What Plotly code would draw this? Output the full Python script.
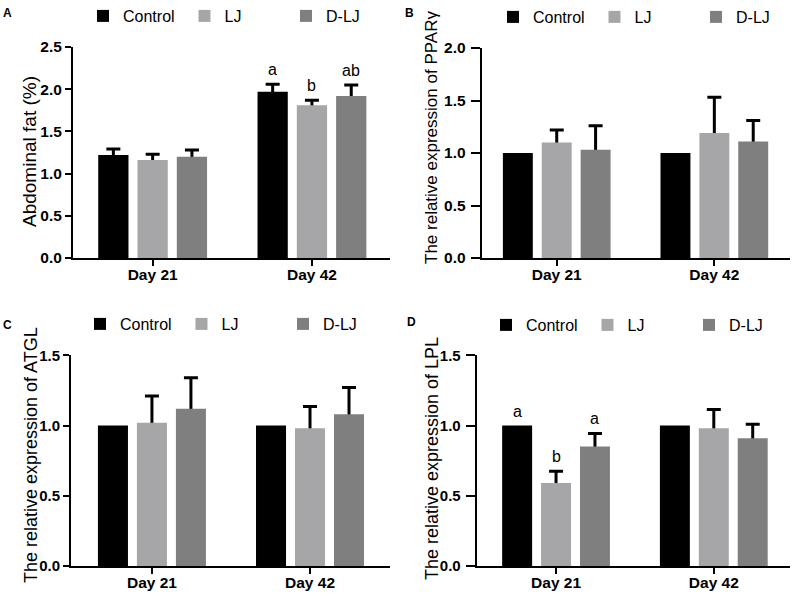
import plotly.graph_objects as go

# ---------------- data ----------------
days = ["Day 21", "Day 42"]
groups = ["Control", "LJ", "D-LJ"]
colors = ["#000000", "#a6a6a8", "#7f7f7f"]

# Panel A: Abdominal fat (%)
a_control = [1.22, 1.97]
a_control_err = [0.07, 0.09]
a_lj = [1.16, 1.81]
a_lj_err = [0.07, 0.06]
a_dlj = [1.20, 1.92]
a_dlj_err = [0.08, 0.13]
a_letters = [["", "a"], ["", "b"], ["", "ab"]]

# Panel B: PPARγ
b_control = [1.00, 1.00]
b_control_err = [0.0, 0.0]
b_lj = [1.10, 1.19]
b_lj_err = [0.12, 0.34]
b_dlj = [1.03, 1.11]
b_dlj_err = [0.23, 0.20]

# Panel C: ATGL
c_control = [1.00, 1.00]
c_control_err = [0.0, 0.0]
c_lj = [1.02, 0.98]
c_lj_err = [0.19, 0.155]
c_dlj = [1.12, 1.08]
c_dlj_err = [0.22, 0.19]

# Panel D: LPL
d_control = [1.00, 1.00]
d_control_err = [0.0, 0.0]
d_lj = [0.59, 0.98]
d_lj_err = [0.085, 0.135]
d_dlj = [0.85, 0.91]
d_dlj_err = [0.094, 0.10]
d_letters = [["a", ""], ["b", ""], ["a", ""]]

panels = [
    dict(vals=[a_control, a_lj, a_dlj], errs=[a_control_err, a_lj_err, a_dlj_err],
         letters=a_letters, title="Abdominal fat (%)", tsize=19, ymax=2.5, tpos=(29, 152),
         ytick=dict(len=6, standoff=0, size=15.5),
         xdom=[73, 390], ydom=[258, 47], xr=[-0.50, 1.49], tag="A", tagpos=(7, 13),
         leg=(83, 16)),
    dict(vals=[b_control, b_lj, b_dlj], errs=[b_control_err, b_lj_err, b_dlj_err],
         letters=None, title="The relative expression of PPARγ", tsize=17, ymax=2.0,
         tpos=(432, 138), ytick=dict(len=9, standoff=2, size=15.5),
         xdom=[481.7, 790], ydom=[258, 48], xr=[-0.476, 1.48], tag="B", tagpos=(410, 13),
         leg=(493, 17)),
    dict(vals=[c_control, c_lj, c_dlj], errs=[c_control_err, c_lj_err, c_dlj_err],
         letters=None, title="The relative expression of ATGL", tsize=18, ymax=1.5,
         tpos=(31, 455), ytick=dict(len=6, standoff=0, size=15),
         xdom=[71, 390], ydom=[566, 355.3], xr=[-0.512, 1.506], tag="C", tagpos=(7, 325),
         leg=(80, 324)),
    dict(vals=[d_control, d_lj, d_dlj], errs=[d_control_err, d_lj_err, d_dlj_err],
         letters=d_letters, title="The relative expression of LPL", tsize=18, ymax=1.5,
         tpos=(432, 459), ytick=dict(len=9, standoff=2, size=15),
         xdom=[476.7, 790], ydom=[566, 355.3], xr=[-0.503, 1.483], tag="D", tagpos=(411, 322),
         leg=(486, 325)),
]

W, H = 800, 596
BARGAP = 0.26
BARGROUPGAP = 0.23
FONT = "Liberation Sans, Arial, sans-serif"

fig = go.Figure()
layout = dict(
    width=W, height=H, margin=dict(l=0, r=0, t=0, b=0, autoexpand=False),
    paper_bgcolor="white", plot_bgcolor="white",
    barmode="group", bargap=BARGAP, bargroupgap=BARGROUPGAP,
    font=dict(family=FONT, color="black"),
    annotations=[],
)

for p_i, p in enumerate(panels):
    n = "" if p_i == 0 else str(p_i + 1)
    xa, ya = "x" + n, "y" + n
    legname = "legend" + n
    # transparent bars carrying the error bars (drawn first, beneath the visible bars,
    # so only the part above each bar shows)
    for s_i, g in enumerate(groups):
        errs = p["errs"][s_i]
        fig.add_trace(go.Bar(
            x=days, y=p["vals"][s_i], xaxis=xa, yaxis=ya, offsetgroup=g,
            marker=dict(color="rgba(0,0,0,0)", line=dict(width=0)),
            error_y=dict(type="data", symmetric=False, array=errs,
                         arrayminus=[v * 0.5 for v in p["vals"][s_i]],
                         visible=any(e > 0 for e in errs),
                         color="black", thickness=3, width=7),
            showlegend=False, hoverinfo="skip",
        ))
    # visible bars
    for s_i, g in enumerate(groups):
        fig.add_trace(go.Bar(
            x=days, y=p["vals"][s_i], xaxis=xa, yaxis=ya, offsetgroup=g, name=g,
            marker=dict(color=colors[s_i], line=dict(width=0)),
            legend=legname, showlegend=True,
        ))
    # significance letters
    if p["letters"]:
        slot = (1 - BARGAP) / len(groups)
        for s_i in range(len(groups)):
            for d_i in range(len(days)):
                txt = p["letters"][s_i][d_i]
                if txt:
                    layout["annotations"].append(dict(
                        x=d_i + (s_i - 1) * slot, y=p["vals"][s_i][d_i] + p["errs"][s_i][d_i],
                        xref=xa, yref=ya, text=txt, showarrow=False,
                        yanchor="bottom", yshift=4,
                        font=dict(family=FONT, size=16, color="black")))
    # panel tag
    layout["annotations"].append(dict(
        x=p["tagpos"][0] / W, y=1 - p["tagpos"][1] / H, xref="paper", yref="paper",
        text="<b>%s</b>" % p["tag"], showarrow=False, xanchor="center", yanchor="middle",
        font=dict(family=FONT, size=12, color="black")))
    # y-axis title (vertical text)
    layout["annotations"].append(dict(
        x=p["tpos"][0] / W, y=1 - p["tpos"][1] / H, xref="paper", yref="paper",
        text=p["title"], textangle=-90, showarrow=False,
        xanchor="center", yanchor="middle",
        font=dict(family=FONT, size=p["tsize"], color="black")))

    axis_common = dict(
        showline=True, linewidth=2, linecolor="black", mirror=False,
        ticks="outside", tickwidth=2, tickcolor="black",
        showgrid=False, zeroline=False, automargin=False, fixedrange=True,
    )
    layout["xaxis" + n] = dict(
        axis_common, domain=[p["xdom"][0] / W, p["xdom"][1] / W],
        anchor=ya, type="category", range=p["xr"], ticklen=6,
        ticklabelstandoff=-5,
        tickfont=dict(family=FONT, size=15.5, color="black", weight="bold"),
    )
    layout["yaxis" + n] = dict(
        axis_common, domain=[1 - p["ydom"][0] / H, 1 - p["ydom"][1] / H],
        anchor=xa, range=[0, p["ymax"]], dtick=0.5, tickformat=".1f",
        ticklen=p["ytick"]["len"], ticklabelstandoff=p["ytick"]["standoff"],
        tickfont=dict(family=FONT, size=p["ytick"]["size"], color="black", weight="bold"),
    )
    layout[legname] = dict(
        orientation="h", x=p["leg"][0] / W, y=1 - p["leg"][1] / H,
        xanchor="left", yanchor="middle", entrywidth=56.5, entrywidthmode="pixels",
        font=dict(family=FONT, size=16, color="black"), bgcolor="rgba(0,0,0,0)",
        borderwidth=0, itemclick=False, itemdoubleclick=False,
    )

fig.update_layout(**layout)
fig.write_html("out.html", config={"displayModeBar": False},
               post_script="document.body.style.margin='0';")
